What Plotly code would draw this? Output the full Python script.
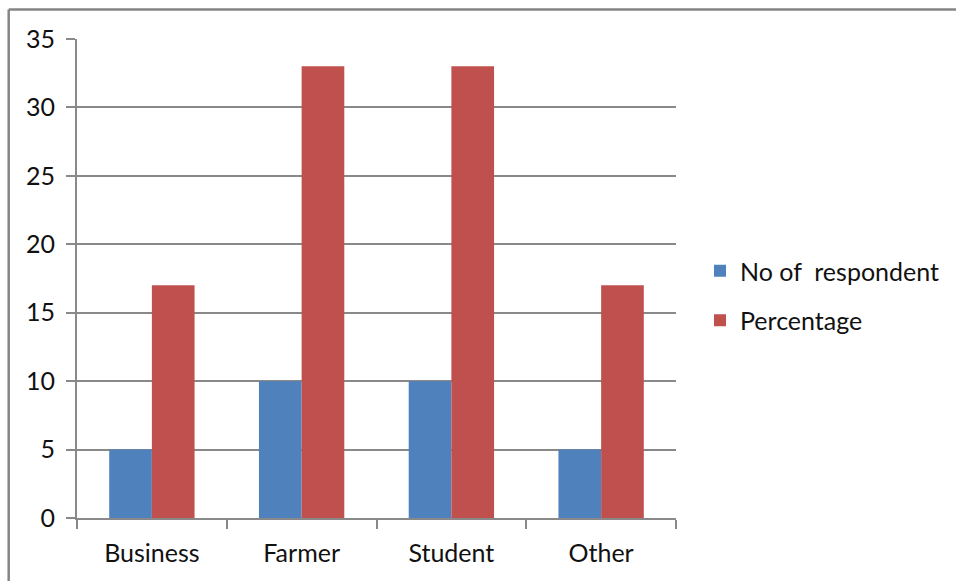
import plotly.graph_objects as go

categories = ["Business", "Farmer", "Student", "Other"]
respondents = [5, 10, 10, 5]
percentage = [17, 33, 33, 17]
y_ticks = [0, 5, 10, 15, 20, 25, 30, 35]

BLUE = "#4F81BD"
RED = "#C0504D"
GRID = "#898989"
TEXT = "#111111"
FONT = "Lato"
FS = 25

fig = go.Figure()
fig.add_trace(go.Bar(x=categories, y=respondents, name="No of\u00a0 respondent",
                     marker=dict(color=BLUE, line=dict(width=0)), legendgroup="a"))
fig.add_trace(go.Bar(x=categories, y=percentage, name="Percentage",
                     marker=dict(color=RED, line=dict(width=0)), legendgroup="b"))

# plot-area pixel geometry
W, H = 956, 581
L, R, T, B = 77, 280, 39, 63
pw, ph = W - L - R, H - T - B

def px_x(p):
    return (p - L) / pw

def px_y(p):
    return (H - B - p) / ph

# outer chart frame (top and left edges visible)
frame_x = px_x(8.7)
frame_y = px_y(9.6)
fig.add_shape(type="line", xref="paper", yref="paper", x0=frame_x, x1=frame_x,
              y0=px_y(600), y1=frame_y, line=dict(color="#858585", width=2.5))
fig.add_shape(type="line", xref="paper", yref="paper", x0=frame_x, x1=px_x(1000),
              y0=frame_y, y1=frame_y, line=dict(color="#858585", width=2.5))

fig.update_layout(
    width=W, height=H,
    margin=dict(l=L, r=R, t=T, b=B, pad=0, autoexpand=False),
    paper_bgcolor="white", plot_bgcolor="white",
    barmode="group", bargap=0.43, bargroupgap=0,
    font=dict(family=FONT, size=FS, color=TEXT),
    showlegend=True,
    legend=dict(x=px_x(700), y=px_y(248), xanchor="left", yanchor="top",
                font=dict(family=FONT, size=FS, color=TEXT),
                tracegroupgap=14, traceorder="grouped",
                bgcolor="rgba(0,0,0,0)", itemwidth=30),
)
fig.update_xaxes(
    type="category", tickson="boundaries",
    showline=True, linecolor=GRID, linewidth=2,
    ticks="outside", ticklen=9, tickwidth=2, tickcolor=GRID,
    showgrid=False, ticklabelstandoff=12,
    tickfont=dict(family=FONT, size=FS, color=TEXT),
)
fig.update_yaxes(
    range=[0, 35], tickvals=y_ticks,
    showline=True, linecolor=GRID, linewidth=2,
    ticks="outside", ticklen=9, tickwidth=2, tickcolor=GRID,
    showgrid=True, gridcolor=GRID, gridwidth=2,
    zeroline=False, ticklabelstandoff=6,
    tickfont=dict(family=FONT, size=FS, color=TEXT),
)

fig.write_html("out.html")
